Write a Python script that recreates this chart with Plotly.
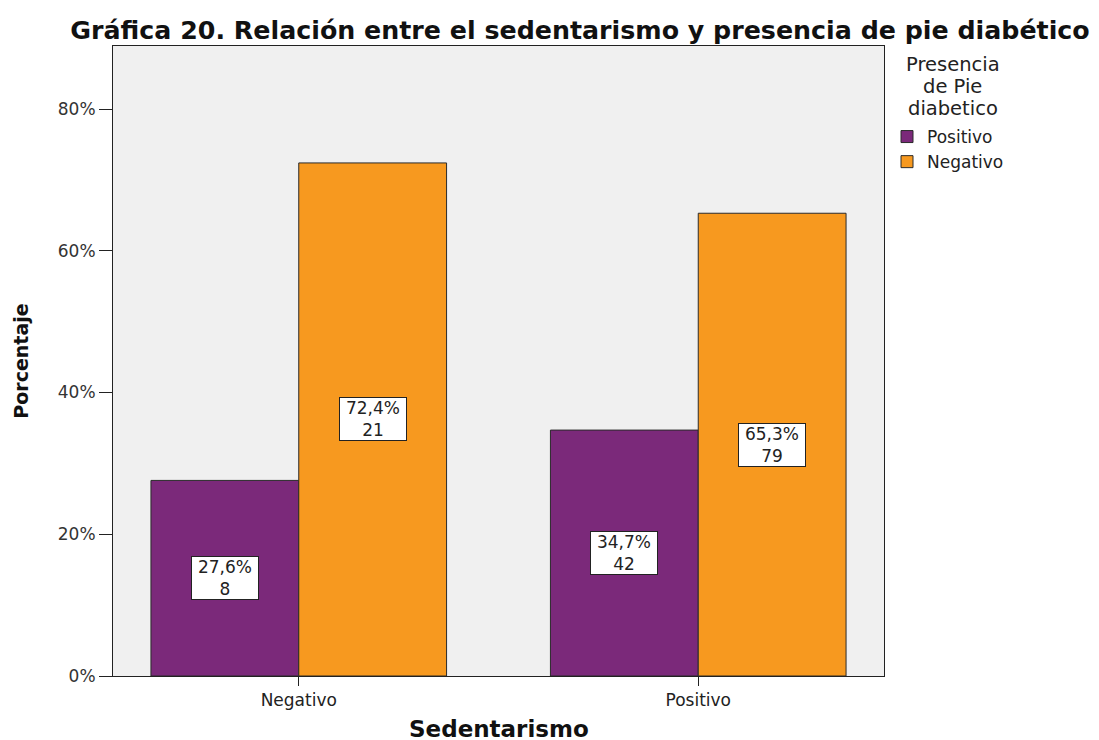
import plotly.graph_objects as go

categories = ["Negativo", "Positivo"]
series_names = ["Positivo", "Negativo"]
pct_positivo = [27.6, 34.7]
pct_negativo = [72.4, 65.3]
n_positivo = [8, 42]
n_negativo = [21, 79]
legend_title_lines = ["Presencia", "de Pie", "diabetico"]
colors = ["#7B297A", "#F7991F"]

FONT = "DejaVu Sans, Verdana, sans-serif"

fig = go.Figure()
for name, pct, col in zip(series_names, [pct_positivo, pct_negativo], colors):
    fig.add_trace(go.Bar(
        x=categories, y=pct, name=name,
        marker=dict(color=col, line=dict(color="#2a2a2a", width=1)),
    ))

# page is offset by the 8px body margin
W, H = 1099, 740
L, R, T, B = 105, 876, 38, 668
ymax = 88.9

annotations = []
for i, (pct, n) in enumerate(zip([pct_positivo, pct_negativo], [n_positivo, n_negativo])):
    off = -0.185 if i == 0 else 0.185
    for j, cat in enumerate(categories):
        annotations.append(dict(
            x=j + off, y=pct[j] / 2, xref="x", yref="y",
            text=f"{pct[j]:.1f}%".replace(".", ",") + f"<br>{n[j]}",
            showarrow=False, bgcolor="white", bordercolor="#222", borderwidth=1,
            borderpad=1, width=64, height=40,
            font=dict(family=FONT, size=17, color="#222"),
            align="center", valign="middle",
        ))

for k, line in enumerate(legend_title_lines):
    ypix = 56 + 22 * k
    annotations.append(dict(
        x=(945 - L) / (R - L), y=(B - ypix) / (B - T), xref="paper", yref="paper",
        text=line, showarrow=False, align="center",
        font=dict(family=FONT, size=19.5, color="#222"),
        xanchor="center", yanchor="middle",
    ))

# x axis title as annotation
annotations.append(dict(
    x=0.5, y=(B - 721) / (B - T), xref="paper", yref="paper",
    text="<b>Sedentarismo</b>", showarrow=False,
    font=dict(family=FONT, size=23, color="#111"),
    xanchor="center", yanchor="middle",
))

fig.update_layout(
    width=W, height=H,
    margin=dict(l=L, r=W - R, t=T, b=H - B, autoexpand=False),
    paper_bgcolor="white", plot_bgcolor="#F0F0F0",
    barmode="group", bargap=0.26, bargroupgap=0,
    title=dict(text="<b>Gráfica 20. Relación entre el sedentarismo y presencia de pie diabético</b>",
               x=572 / W, xanchor="center", y=1 - 22 / H, yanchor="middle",
               font=dict(family=FONT, size=25.3, color="#111")),
    showlegend=True,
    legend=dict(x=(879 - L) / (R - L), y=(B - 111) / (B - T), xanchor="left", yanchor="top",
                font=dict(family=FONT, size=17, color="#222"),
                bgcolor="rgba(0,0,0,0)", itemwidth=30, tracegroupgap=0),
    annotations=annotations,
    font=dict(family=FONT, color="#222"),
)
fig.update_xaxes(
    range=[-0.465, 1.465], showline=True, linecolor="#222", linewidth=1, mirror=True,
    ticks="outside", ticklen=9, tickcolor="#222", showgrid=False,
    tickfont=dict(family=FONT, size=17, color="#222"),
)
fig.update_yaxes(
    range=[0, ymax], tickvals=[0, 20, 40, 60, 80], ticktext=["0%", "20%", "40%", "60%", "80%"],
    showline=True, linecolor="#222", linewidth=1, mirror=True,
    ticks="outside", ticklen=13, tickcolor="#222", showgrid=False, zeroline=False,
    tickfont=dict(family=FONT, size=17, color="#333"),
    title=dict(text="<b>Porcentaje</b>", font=dict(family=FONT, size=19, color="#111"), standoff=24),
)

fig.write_html("out.html")
